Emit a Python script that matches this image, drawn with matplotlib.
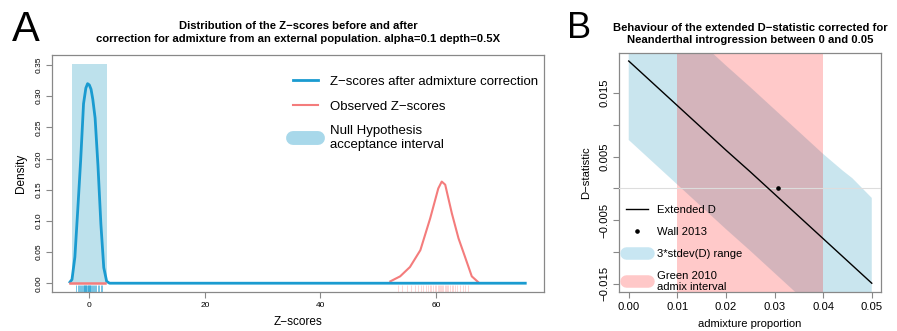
import matplotlib
matplotlib.use('Agg')
import matplotlib.pyplot as plt
from matplotlib.lines import Line2D
import numpy as np

plt.rcParams['font.family'] = ['Liberation Sans', 'DejaVu Sans']
plt.rcParams['axes.unicode_minus'] = True

# ---- panel A data ----
corr_x = [-3.5, -3.0, -2.5, -2.0, -1.5, -1.0, -0.6, -0.3, 0.0, 0.3, 0.6, 1.0,
          1.5, 2.0, 2.5, 3.0, 3.5, 75.7]
corr_y = [0.000, 0.006, 0.042, 0.118, 0.197, 0.288, 0.313, 0.320, 0.318, 0.311,
          0.295, 0.265, 0.188, 0.095, 0.025, 0.003, 0.000, 0.000]

obs_x = [-3.3, 2.8, 52.1, 53.8, 55.5, 57.3, 59.0, 60.4, 61.0, 61.6, 62.75,
         63.9, 65.0, 66.2, 67.4]
obs_y = [0.000, 0.000, 0.003, 0.011, 0.026, 0.053, 0.104, 0.152, 0.163, 0.158,
         0.112, 0.072, 0.043, 0.011, 0.001]

corr_rug = [-2.3, -2.0, -1.8, -1.6, -1.45, -1.3, -1.15, -1.0, -0.9, -0.8, -0.7,
            -0.6, -0.5, -0.4, -0.3, -0.2, -0.1, 0.0, 0.1, 0.2, 0.35, 0.5, 0.65,
            0.8, 1.0, 1.2, 1.45, 1.7, 2.0, 2.15]
obs_rug = [53.5, 54.2, 55.0, 55.6, 56.3, 56.9, 57.4, 57.8, 58.2, 58.6, 58.9, 59.2,
           59.5, 59.8, 60.0, 60.3, 60.5, 60.7, 60.9, 61.1, 61.3, 61.5, 61.7, 61.9,
           62.1, 62.4, 62.7, 63.0, 63.3, 63.7, 64.1, 64.6, 65.0, 65.6]

null_lo, null_hi = -2.95, 3.1
null_top = 0.352

# ---- panel B data ----
admix = [0.0, 0.005, 0.01, 0.015, 0.02, 0.025, 0.03, 0.035, 0.04, 0.044, 0.046, 0.05]
ext_d = [0.0200, 0.0165, 0.0130, 0.0095, 0.0060, 0.0026, -0.0009, -0.0044,
         -0.0079, -0.0107, -0.0121, -0.0149]
d_upper = [0.0333, 0.0298, 0.0263, 0.0228, 0.0193, 0.0159, 0.0124, 0.0089,
           0.0054, 0.0028, 0.0016, -0.0015]
d_lower = [0.0076, 0.0041, 0.0006, -0.0029, -0.0064, -0.0098, -0.0133, -0.0168,
           -0.0203, -0.0231, -0.0245, -0.0273]
green_lo, green_hi = 0.01, 0.04
wall_x, wall_y = [0.0307], [0.0]

blue = '#1a9bd0'
red = '#f47c7c'
light_blue = '#bde1ec'
grey = '#888888'

fig = plt.figure(figsize=(8.97, 3.31), dpi=100)

# ================= panel A =================
axA = fig.add_axes([52 / 897, 39 / 331, 492 / 897, 237 / 331])
axA.fill_between([null_lo, null_hi], 0, null_top, color=light_blue, lw=0, zorder=1)
axA.plot(corr_x, corr_y, color=blue, lw=2, zorder=3, solid_capstyle='butt')
axA.plot(obs_x[2:], obs_y[2:], color=red, lw=1.5, zorder=2)
axA.plot(obs_x[:2], obs_y[:2], color=red, lw=1.8, zorder=4)
trA = axA.get_xaxis_transform()
axA.vlines(corr_rug, 0, 0.03, transform=trA, color=blue, lw=0.6, alpha=0.7)
axA.vlines(obs_rug, 0, 0.03, transform=trA, color=red, lw=0.6, alpha=0.35)

axA.set_xlim(-6.46, 78.7)
axA.set_ylim(-0.0141, 0.366)
axA.set_xticks([0, 20, 40, 60])
axA.set_yticks(np.arange(0, 0.36, 0.05))
axA.set_yticklabels([f'{v:.2f}' for v in np.arange(0, 0.36, 0.05)],
                    rotation=90, va='center')
axA.tick_params(labelsize=6, length=4, color=grey, width=0.8, pad=3)
for s in axA.spines.values():
    s.set_color(grey)
    s.set_linewidth(0.9)
axA.set_xlabel('Z\u2212scores', fontsize=8.5, labelpad=5)
axA.set_ylabel('Density', fontsize=8.5, labelpad=6)
axA.set_title('Distribution of the Z\u2212scores before and after\n'
              'correction for admixture from an external population. alpha=0.1 depth=0.5X',
              fontsize=8.1, fontweight='bold', pad=9, linespacing=1.45)

hA = [Line2D([], [], color=blue, lw=2),
      Line2D([], [], color=red, lw=1.5),
      Line2D([], [], color='#a8d8ea', lw=10, solid_capstyle='round')]
axA.legend(hA, ['Z\u2212scores after admixture correction', 'Observed Z\u2212scores',
                'Null Hypothesis\nacceptance interval'],
           loc='upper left', bbox_to_anchor=(0.465, 0.962), frameon=False,
           fontsize=9.5, handlelength=1.95, handletextpad=0.9, labelspacing=0.95)

# ================= panel B =================
axB = fig.add_axes([619 / 897, 39 / 331, 262 / 897, 239 / 331])
axB.fill_between(admix, d_lower, d_upper, color='#add8e6', alpha=0.65, lw=0, zorder=1)
axB.axvspan(green_lo, green_hi, color='#ff0000', alpha=0.21, lw=0, zorder=2)
axB.axhline(0, color='#dddddd', lw=0.8, zorder=3)
axB.plot(admix, ext_d, color='black', lw=1, zorder=4)
axB.plot(wall_x, wall_y, 'o', color='black', ms=2.3, zorder=5)

axB.set_xlim(-0.002, 0.0519)
axB.set_ylim(-0.01628, 0.02126)
axB.set_xticks([0, 0.01, 0.02, 0.03, 0.04, 0.05])
axB.set_xticklabels(['0.00', '0.01', '0.02', '0.03', '0.04', '0.05'])
yt = [-0.015, -0.01, -0.005, 0, 0.005, 0.01, 0.015]
axB.set_yticks(yt)
axB.set_yticklabels(['\u22120.015', '', '\u22120.005', '', '0.005', '', '0.015'],
                    rotation=90, va='center')
axB.tick_params(labelsize=8.1, length=4, color=grey, width=0.8, pad=3)
for s in axB.spines.values():
    s.set_color(grey)
    s.set_linewidth(0.9)
axB.set_xlabel('admixture proportion', fontsize=8.1, labelpad=5)
axB.set_ylabel('D\u2212statistic', fontsize=8.1, labelpad=6)
axB.set_title('Behaviour of the extended D\u2212statistic corrected for\n'
              'Neanderthal introgression between 0 and 0.05',
              fontsize=8.1, fontweight='bold', pad=7, linespacing=1.25)

hB = [Line2D([], [], color='black', lw=1),
      Line2D([], [], color='black', marker='o', ms=2.3, lw=0),
      Line2D([], [], color='#c8e6f2', lw=9, solid_capstyle='round'),
      Line2D([], [], color='#ffc8c8', lw=9, solid_capstyle='round')]
axB.legend(hB, ['Extended D', 'Wall 2013', '3*stdev(D) range', 'Green 2010\nadmix interval'],
           loc='lower left', bbox_to_anchor=(0.012, -0.015), frameon=False,
           fontsize=8.1, handlelength=2.0, handletextpad=0.8, labelspacing=1.05,
           borderaxespad=0.1, borderpad=0.2)

fig.text(12 / 897, 1 - 41 / 331, 'A', fontsize=30)
fig.text(567 / 897, 1 - 38 / 331, 'B', fontsize=26)

fig.savefig('out.png', dpi=100)
